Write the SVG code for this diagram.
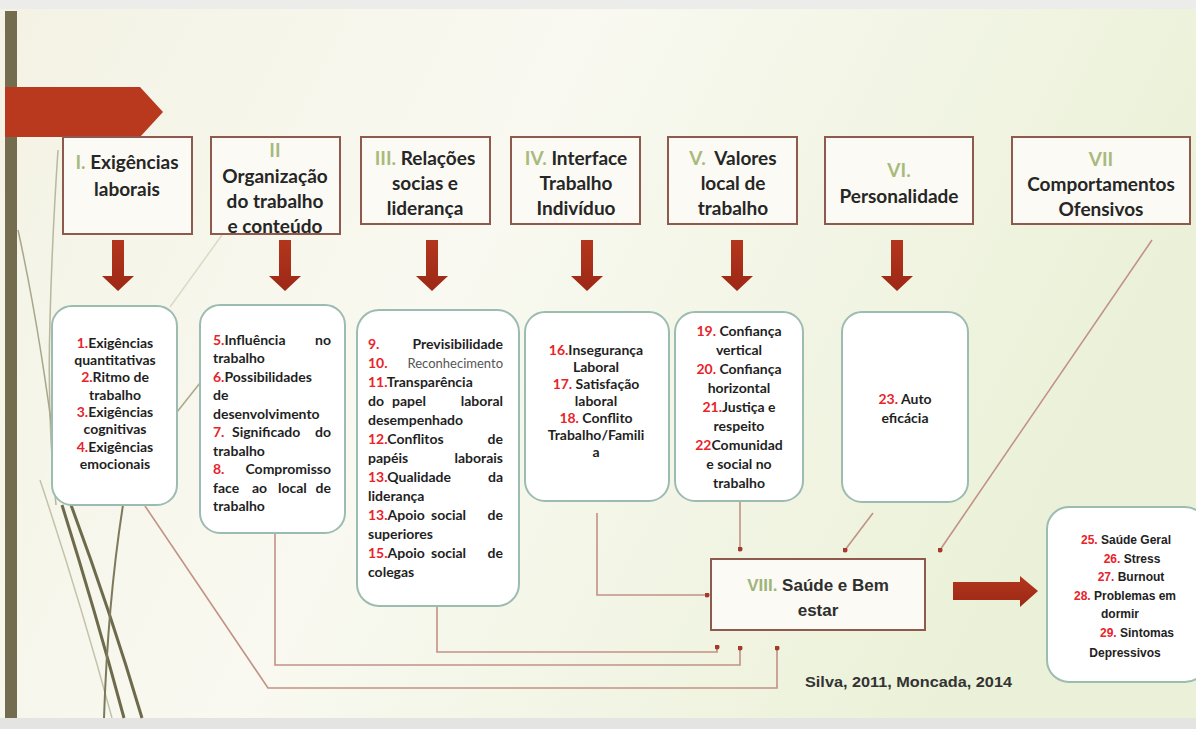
<svg xmlns="http://www.w3.org/2000/svg" width="1196" height="729" viewBox="0 0 1196 729">
  <defs>
    <linearGradient id="bg" x1="0" y1="0" x2="1" y2="0.3">
      <stop offset="0" stop-color="#f3f2e4"/>
      <stop offset="0.45" stop-color="#f9f9f1"/>
      <stop offset="1" stop-color="#ebf1d8"/>
    </linearGradient>
    <linearGradient id="redFill" x1="0" y1="0" x2="0" y2="1">
      <stop offset="0" stop-color="#b3361c"/>
      <stop offset="1" stop-color="#9c2816"/>
    </linearGradient>
    <path id="downArrow" d="M -6 0 H 6 V 36 H 16 L 0 51 L -16 36 H -6 Z"/>
    <marker id="dot" viewBox="0 0 6 6" refX="3" refY="3" markerWidth="5" markerHeight="5" markerUnits="userSpaceOnUse">
      <circle cx="3" cy="3" r="3" fill="#a53a2c"/>
    </marker>
    <style>
      .head { font-family: Lato, "Liberation Sans", sans-serif; font-weight: 700; font-size: 19px; fill: #262626; text-anchor: middle; }
      .rn { fill: #a8ba7d; }
      .topbox { fill: #fbfaf4; stroke: #8e5a4e; stroke-width: 2; }
      .listbox { fill: #ffffff; stroke: #9dbcb1; stroke-width: 2; }
      .li { font-family: Lato, "Liberation Sans", sans-serif; font-weight: 700; font-size: 14px; fill: #1f1f1f; }
      .c { text-anchor: middle; }
      .e { text-anchor: end; }
      .n { fill: #e8232a; }
      .thin { font-weight: 400; fill: #555555; font-size: 13px; }
      .out { font-family: "Liberation Sans", Arial, sans-serif; font-weight: 700; font-size: 12px; fill: #222222; text-anchor: middle; }
      .arrow { fill: url(#redFill); }
      .conn { fill: none; stroke: #c19285; stroke-width: 1.6; }
      .deco { fill: none; }
    </style>
  </defs>

  <!-- slide background -->
  <rect x="0" y="0" width="1196" height="729" fill="#ececeb"/>
  <rect x="0" y="9" width="1196" height="709" fill="url(#bg)"/>
  <rect x="0" y="718" width="1196" height="11" fill="#e4e4e3"/>

  <!-- theme decoration on the left -->
  <g id="decoration">
    <path class="deco" d="M 58 150 Q 52 240 50 320 Q 47 420 56 505" stroke="#b9b79c" stroke-width="1.5"/>
    <path class="deco" d="M 18 230 Q 40 330 56 460" stroke="#a9a78a" stroke-width="1.5"/>
    <path class="deco" d="M 222 235 L 170 307" stroke="#dcdac7" stroke-width="1.5"/>
    <path class="deco" d="M 177 412 L 200 383" stroke="#a9a78a" stroke-width="1.5"/>
    <path class="deco" d="M 40 480 Q 80 600 112 718" stroke="#c4c2a8" stroke-width="1.5"/>
    <path class="deco" d="M 62 505 Q 95 610 124 718" stroke="#6e6a4c" stroke-width="3"/>
    <path class="deco" d="M 71 505 Q 110 610 142 718" stroke="#6e6a4c" stroke-width="3"/>
    <path class="deco" d="M 123 505 Q 108 600 104 718" stroke="#7d795a" stroke-width="2"/>
    <rect x="5" y="11" width="12" height="707" fill="#736c4e"/>
    <polygon points="5,87 140,87 163,112 140,137 5,137" fill="#b8391d"/>
  </g>

  <!-- connectors into VIII -->
  <g id="connectors">
    <path class="conn" d="M 145 506 L 268 688 H 777 V 648" marker-end="url(#dot)"/>
    <path class="conn" d="M 275 534 V 665 H 740 V 648" marker-end="url(#dot)"/>
    <path class="conn" d="M 437 607 V 652 H 717 V 647" marker-end="url(#dot)"/>
    <path class="conn" d="M 597 513 V 595 H 707" marker-end="url(#dot)"/>
    <path class="conn" d="M 740 501 V 549" marker-end="url(#dot)"/>
    <path class="conn" d="M 873 513 L 845 550" marker-end="url(#dot)"/>
    <path class="conn" d="M 1152 240 L 940 550" marker-end="url(#dot)"/>
  </g>

  <!-- category boxes -->
  <g id="box-I">
    <rect class="topbox" x="63" y="137" width="129" height="97"/>
    <text class="head" x="127" y="169"><tspan class="rn">I.</tspan> Exigências</text>
    <text class="head" x="127" y="196">laborais</text>
    <use href="#downArrow" x="118" y="240" class="arrow"/>
  </g>
  <g id="box-II">
    <rect class="topbox" x="211" y="137" width="129" height="97"/>
    <text class="head rn" x="275" y="157">II</text>
    <text class="head" x="275" y="183">Organização</text>
    <text class="head" x="275" y="208">do trabalho</text>
    <text class="head" x="275" y="233">e conteúdo</text>
    <use href="#downArrow" x="285" y="240" class="arrow"/>
  </g>
  <g id="box-III">
    <rect class="topbox" x="361" y="137" width="129" height="87"/>
    <text class="head" x="425" y="165"><tspan class="rn">III.</tspan> Relações</text>
    <text class="head" x="425" y="190">socias e</text>
    <text class="head" x="425" y="215">liderança</text>
    <use href="#downArrow" x="432" y="240" class="arrow"/>
  </g>
  <g id="box-IV">
    <rect class="topbox" x="511" y="137" width="129" height="87"/>
    <text class="head" x="576" y="165"><tspan class="rn">IV.</tspan> Interface</text>
    <text class="head" x="576" y="190">Trabalho</text>
    <text class="head" x="576" y="215">Indivíduo</text>
    <use href="#downArrow" x="587" y="240" class="arrow"/>
  </g>
  <g id="box-V">
    <rect class="topbox" x="668" y="137" width="129" height="87"/>
    <text class="head" x="733" y="165" xml:space="preserve"><tspan class="rn">V.</tspan>  Valores</text>
    <text class="head" x="733" y="190">local de</text>
    <text class="head" x="733" y="215">trabalho</text>
    <use href="#downArrow" x="737" y="240" class="arrow"/>
  </g>
  <g id="box-VI">
    <rect class="topbox" x="825" y="137" width="148" height="87"/>
    <text class="head rn" x="899" y="177">VI.</text>
    <text class="head" x="899" y="203">Personalidade</text>
    <use href="#downArrow" x="897" y="240" class="arrow"/>
  </g>
  <g id="box-VII">
    <rect class="topbox" x="1012" y="137" width="178" height="87"/>
    <text class="head rn" x="1101" y="166">VII</text>
    <text class="head" x="1101" y="191">Comportamentos</text>
    <text class="head" x="1101" y="216">Ofensivos</text>
  </g>

  <!-- item lists -->
  <g id="list-I">
    <rect class="listbox" x="52" y="306" width="125" height="199" rx="20"/>
    <text class="li c" x="115" y="348"><tspan class="n">1.</tspan>Exigências</text>
    <text class="li c" x="115" y="365">quantitativas</text>
    <text class="li c" x="115" y="382"><tspan class="n">2.</tspan>Ritmo de</text>
    <text class="li c" x="115" y="400">trabalho</text>
    <text class="li c" x="115" y="417"><tspan class="n">3.</tspan>Exigências</text>
    <text class="li c" x="115" y="434">cognitivas</text>
    <text class="li c" x="115" y="452"><tspan class="n">4.</tspan>Exigências</text>
    <text class="li c" x="115" y="469">emocionais</text>
  </g>
  <g id="list-II">
    <rect class="listbox" x="200" y="305" width="145" height="228" rx="20"/>
    <text class="li" x="213" y="345"><tspan class="n">5.</tspan>Influência</text>
    <text class="li e" x="331" y="345">no</text>
    <text class="li" x="213" y="363">trabalho</text>
    <text class="li" x="213" y="382"><tspan class="n">6.</tspan>Possibilidades</text>
    <text class="li" x="213" y="400">de</text>
    <text class="li" x="213" y="419">desenvolvimento</text>
    <text class="li" x="213" y="437"><tspan class="n">7.</tspan></text>
    <text class="li" x="232" y="437">Significado</text>
    <text class="li e" x="331" y="437">do</text>
    <text class="li" x="213" y="456">trabalho</text>
    <text class="li" x="213" y="474"><tspan class="n">8.</tspan></text>
    <text class="li e" x="331" y="474">Compromisso</text>
    <text class="li" x="213" y="493">face</text>
    <text class="li" x="252" y="493">ao</text>
    <text class="li" x="278" y="493">local</text>
    <text class="li e" x="331" y="493">de</text>
    <text class="li" x="213" y="511">trabalho</text>
  </g>
  <g id="list-III">
    <rect class="listbox" x="357" y="310" width="162" height="296" rx="22"/>
    <text class="li n" x="368" y="349">9.</text>
    <text class="li e" x="503" y="349">Previsibilidade</text>
    <text class="li n" x="368" y="368">10.</text>
    <text class="li e thin" x="503" y="368">Reconhecimento</text>
    <text class="li" x="368" y="387"><tspan class="n">11.</tspan>Transparência</text>
    <text class="li" x="368" y="406">do</text>
    <text class="li" x="392" y="406">papel</text>
    <text class="li e" x="503" y="406">laboral</text>
    <text class="li" x="368" y="425">desempenhado</text>
    <text class="li" x="368" y="444"><tspan class="n">12.</tspan>Conflitos</text>
    <text class="li e" x="503" y="444">de</text>
    <text class="li" x="368" y="463">papéis</text>
    <text class="li e" x="503" y="463">laborais</text>
    <text class="li" x="368" y="482"><tspan class="n">13.</tspan>Qualidade</text>
    <text class="li e" x="503" y="482">da</text>
    <text class="li" x="368" y="501">liderança</text>
    <text class="li" x="368" y="520"><tspan class="n">13.</tspan>Apoio</text>
    <text class="li" x="431" y="520">social</text>
    <text class="li e" x="503" y="520">de</text>
    <text class="li" x="368" y="539">superiores</text>
    <text class="li" x="368" y="558"><tspan class="n">15.</tspan>Apoio</text>
    <text class="li" x="431" y="558">social</text>
    <text class="li e" x="503" y="558">de</text>
    <text class="li" x="368" y="577">colegas</text>
  </g>
  <g id="list-IV">
    <rect class="listbox" x="525" y="312" width="144" height="189" rx="20"/>
    <text class="li c" x="596" y="355"><tspan class="n">16.</tspan>Insegurança</text>
    <text class="li c" x="596" y="372">Laboral</text>
    <text class="li c" x="596" y="389"><tspan class="n">17.</tspan> Satisfação</text>
    <text class="li c" x="596" y="406">laboral</text>
    <text class="li c" x="596" y="423"><tspan class="n">18.</tspan> Conflito</text>
    <text class="li c" x="596" y="440">Trabalho/Famili</text>
    <text class="li c" x="596" y="457">a</text>
  </g>
  <g id="list-V">
    <rect class="listbox" x="675" y="312" width="128" height="189" rx="20"/>
    <text class="li c" x="739" y="336"><tspan class="n">19.</tspan> Confiança</text>
    <text class="li c" x="739" y="355">vertical</text>
    <text class="li c" x="739" y="374"><tspan class="n">20.</tspan> Confiança</text>
    <text class="li c" x="739" y="393">horizontal</text>
    <text class="li c" x="739" y="412"><tspan class="n">21.</tspan>Justiça e</text>
    <text class="li c" x="739" y="431">respeito</text>
    <text class="li c" x="739" y="450"><tspan class="n">22</tspan>Comunidad</text>
    <text class="li c" x="739" y="469">e social no</text>
    <text class="li c" x="739" y="488">trabalho</text>
  </g>
  <g id="list-VI">
    <rect class="listbox" x="842" y="312" width="126" height="190" rx="20"/>
    <text class="li c" x="905" y="404"><tspan class="n">23.</tspan> Auto</text>
    <text class="li c" x="905" y="423">eficácia</text>
  </g>

  <!-- outcome -->
  <g id="box-VIII">
    <rect class="topbox" x="711" y="559" width="214" height="71"/>
    <text x="818" y="591" font-family="'Liberation Sans', Arial, sans-serif" font-weight="700" font-size="17" fill="#2e2e2e" text-anchor="middle"><tspan fill="#9fb57a">VIII.</tspan> Saúde e Bem</text>
    <text x="818" y="616" font-family="'Liberation Sans', Arial, sans-serif" font-weight="700" font-size="17" fill="#2e2e2e" text-anchor="middle">estar</text>
  </g>
  <g id="result-arrow">
    <polygon class="arrow" points="953,582 1020,582 1020,576 1038,591 1020,607 1020,600 953,600"/>
  </g>
  <g id="list-outcomes">
    <rect class="listbox" x="1047" y="507" width="160" height="175" rx="22"/>
    <text class="out" x="1126" y="544"><tspan class="n">25.</tspan> Saúde Geral</text>
    <text class="out" x="1132" y="563"><tspan class="n">26.</tspan> Stress</text>
    <text class="out" x="1131" y="581"><tspan class="n">27.</tspan> Burnout</text>
    <text class="out" x="1125" y="600"><tspan class="n">28.</tspan> Problemas em</text>
    <text class="out" x="1120" y="618">dormir</text>
    <text class="out" x="1137" y="637"><tspan class="n">29.</tspan> Sintomas</text>
    <text class="out" x="1125" y="657">Depressivos</text>
  </g>

  <text id="citation" x="805" y="687" font-family="'Liberation Sans', Arial, sans-serif" font-weight="700" font-size="14.5" fill="#333333" textLength="207" lengthAdjust="spacingAndGlyphs">Silva, 2011, Moncada, 2014</text>
</svg>
